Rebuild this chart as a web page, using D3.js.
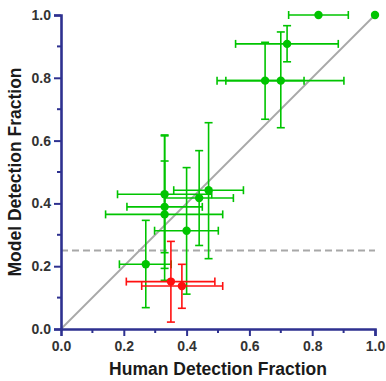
<!DOCTYPE html>
<html>
<head>
<meta charset="utf-8">
<script src="https://cdn.jsdelivr.net/npm/d3@7"></script>
<style>
  body { margin: 0; background: #fff; }
  svg text { font-family: "Liberation Sans", Arial, sans-serif; font-weight: bold; }
</style>
</head>
<body>
<div id="chart"></div>
<script>
// chart values
const human   = [0.82, 1.00, 0.72, 0.65, 0.70, 0.33, 0.33, 0.33, 0.44, 0.47, 0.40, 0.27, 0.35, 0.385]
const model   = [1.00, 1.00, 0.908, 0.791, 0.791, 0.429, 0.389, 0.365, 0.417, 0.442, 0.313, 0.206, 0.151, 0.137]
const humanLo = [0.725, null, 0.556, 0.525, 0.497, 0.18, 0.21, 0.142, 0.33, 0.359, 0.298, 0.186, 0.208, 0.257]
const humanHi = [0.915, null, 0.883, 0.774, 0.901, 0.48, 0.45, 0.515, 0.549, 0.581, 0.501, 0.351, 0.49, 0.515]
const modelLo = [null, null, 0.851, 0.668, 0.641, 0.243, 0.193, 0.155, 0.266, 0.224, 0.111, 0.068, 0.022, 0.066]
const modelHi = [null, null, 0.966, 0.913, 0.946, 0.618, 0.535, 0.615, 0.568, 0.657, 0.514, 0.346, 0.279, 0.206]
const belowChance = [false, false, false, false, false, false, false, false, false, false, false, false, true, true]
const chanceLevel = 0.25
const tickValues = [0, 0.2, 0.4, 0.6, 0.8, 1.0]
const minorTicks = [0.1, 0.3, 0.5, 0.7, 0.9]

const width = 386
const height = 381
const padLeft = 61, padRight = 375, padTop = 15, padBottom = 329
const axisColor = '#2e3190'
const green = '#00c400'
const red = '#ff1010'

const svg = d3.select('#chart')
  .append('svg')
  .attr('width', width)
  .attr('height', height)

const x = d3.scaleLinear().domain([0, 1]).range([padLeft, padRight])
const y = d3.scaleLinear().domain([0, 1]).range([padBottom, padTop])

// reference lines
svg.append('line')
  .attr('x1', x(0)).attr('y1', y(0))
  .attr('x2', x(1)).attr('y2', y(1))
  .attr('stroke', '#a8a8a8').attr('stroke-width', 1.8)

svg.append('line')
  .attr('x1', x(0)).attr('y1', y(chanceLevel))
  .attr('x2', x(1)).attr('y2', y(chanceLevel))
  .attr('stroke', '#a8a8a8').attr('stroke-width', 2)
  .attr('stroke-dasharray', '7,4')

// build point table
const points = human.map((h, i) => ({
  h: h, m: model[i],
  hLo: humanLo[i], hHi: humanHi[i],
  mLo: modelLo[i], mHi: modelHi[i],
  col: belowChance[i] ? red : green
}))

const cap = 4
const bars = svg.append('g').attr('stroke-width', 1.6)

points.forEach(d => {
  if (d.hLo != null) {
    bars.append('line')
      .attr('x1', x(d.hLo)).attr('x2', x(d.hHi))
      .attr('y1', y(d.m)).attr('y2', y(d.m))
      .attr('stroke', d.col)
    ;[d.hLo, d.hHi].forEach(v => {
      bars.append('line')
        .attr('x1', x(v)).attr('x2', x(v))
        .attr('y1', y(d.m) - cap).attr('y2', y(d.m) + cap)
        .attr('stroke', d.col)
    })
  }
  if (d.mLo != null) {
    bars.append('line')
      .attr('x1', x(d.h)).attr('x2', x(d.h))
      .attr('y1', y(d.mLo)).attr('y2', y(d.mHi))
      .attr('stroke', d.col)
    ;[d.mLo, d.mHi].forEach(v => {
      bars.append('line')
        .attr('x1', x(d.h) - cap).attr('x2', x(d.h) + cap)
        .attr('y1', y(v)).attr('y2', y(v))
        .attr('stroke', d.col)
    })
  }
})

svg.append('g').selectAll('circle')
  .data(points)
  .enter()
  .append('circle')
  .attr('cx', d => x(d.h))
  .attr('cy', d => y(d.m))
  .attr('r', 4.2)
  .attr('fill', d => d.col)

// axes
const xAxis = d3.axisBottom(x).tickValues(tickValues).tickFormat(d3.format('.1f')).tickSize(7).tickPadding(5)
const yAxis = d3.axisLeft(y).tickValues(tickValues).tickFormat(d3.format('.1f')).tickSize(7).tickPadding(3)

const gx = svg.append('g')
  .attr('transform', 'translate(0,' + padBottom + ')')
  .call(xAxis)
const gy = svg.append('g')
  .attr('transform', 'translate(' + padLeft + ',0)')
  .call(yAxis)

gx.selectAll('.tick').filter(d => d === 0).select('line').remove()

;[gx, gy].forEach(g => {
  g.select('.domain').attr('stroke', axisColor).attr('stroke-width', 2.6)
  g.selectAll('.tick line').attr('stroke', axisColor).attr('stroke-width', 2)
  g.selectAll('.tick text').attr('fill', '#333').style('font-size', '14px')
})

gx.selectAll('.minor').data(minorTicks).enter()
  .append('line')
  .attr('x1', d => x(d)).attr('x2', d => x(d))
  .attr('y1', 0).attr('y2', 4)
  .attr('stroke', axisColor).attr('stroke-width', 2)
gy.selectAll('.minor').data(minorTicks).enter()
  .append('line')
  .attr('y1', d => y(d)).attr('y2', d => y(d))
  .attr('x1', 0).attr('x2', -4)
  .attr('stroke', axisColor).attr('stroke-width', 2)

// titles
svg.append('text')
  .attr('x', (padLeft + padRight) / 2)
  .attr('y', 375)
  .attr('text-anchor', 'middle')
  .attr('fill', '#1a1a1a')
  .style('font-size', '17.5px')
  .text('Human Detection Fraction')

svg.append('text')
  .attr('transform', 'translate(21,' + (padTop + padBottom) / 2 + ') rotate(-90)')
  .attr('text-anchor', 'middle')
  .attr('fill', '#1a1a1a')
  .style('font-size', '17.5px')
  .text('Model Detection Fraction')
</script>
</body>
</html>
